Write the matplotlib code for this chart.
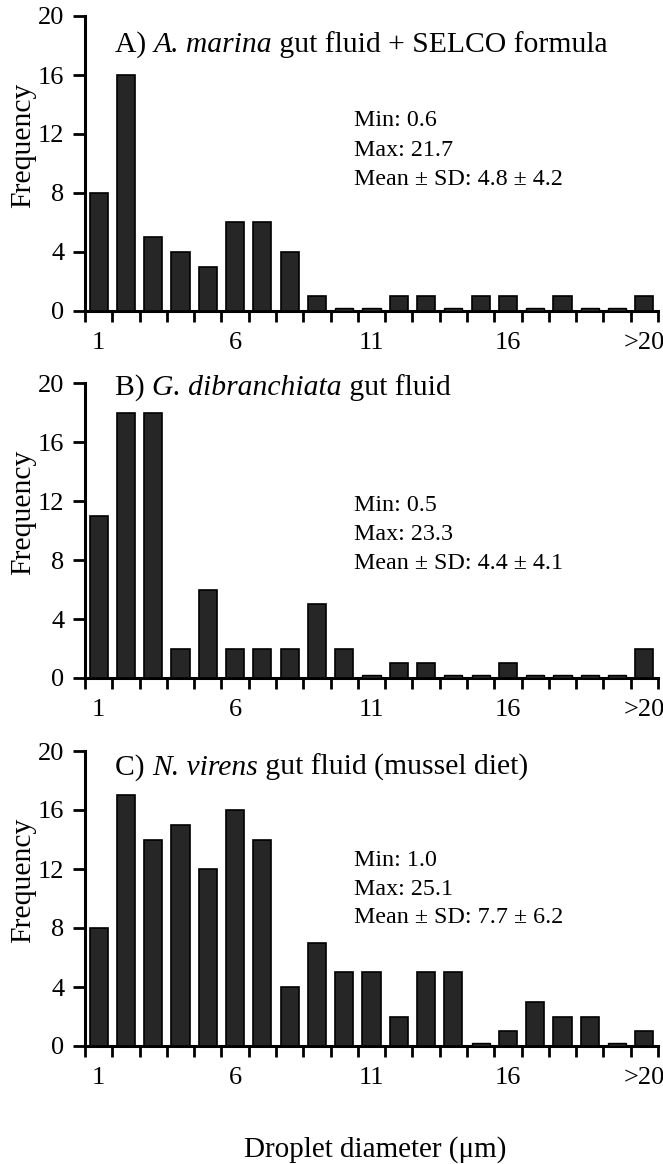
import matplotlib
matplotlib.use('Agg')
import matplotlib.pyplot as plt
import numpy as np

# ---- data ----
bin_labels = ['1', '2', '3', '4', '5', '6', '7', '8', '9', '10', '11', '12',
              '13', '14', '15', '16', '17', '18', '19', '20', '>20']
shown_labels = ['1', '6', '11', '16', '>20']

freq_a = [8, 16, 5, 4, 3, 6, 6, 4, 1, 0, 0, 1, 1, 0, 1, 1, 0, 1, 0, 0, 1]
freq_b = [11, 18, 18, 2, 6, 2, 2, 2, 5, 2, 0, 1, 1, 0, 0, 1, 0, 0, 0, 0, 2]
freq_c = [8, 17, 14, 15, 12, 16, 14, 4, 7, 5, 5, 2, 5, 5, 0, 1, 3, 2, 2, 0, 1]

# title pieces: (text, italic?)
title_a = [("A) ", False), ("A. marina", True), (" gut fluid + SELCO formula", False)]
title_b = [("B) ", False), ("G. dibranchiata", True), (" gut fluid", False)]
title_c = [("C) ", False), ("N. virens", True), (" gut fluid (mussel diet)", False)]
stats_a = ["Min: 0.6", "Max: 21.7", "Mean \u00b1 SD: 4.8 \u00b1 4.2"]
stats_b = ["Min: 0.5", "Max: 23.3", "Mean \u00b1 SD: 4.4 \u00b1 4.1"]
stats_c = ["Min: 1.0", "Max: 25.1", "Mean \u00b1 SD: 7.7 \u00b1 6.2"]
y_ticks = [0, 4, 8, 12, 16, 20]

# ---- style ----
plt.rcParams['font.family'] = ['Liberation Serif', 'DejaVu Serif']

W, H = 663, 1164
fig = plt.figure(figsize=(W / 100, H / 100), dpi=100)
renderer = fig.canvas.get_renderer()

def fx(px):
    return px / W

def fy(py):
    return 1 - py / H

panels = [
    (freq_a, title_a, stats_a, 16, 311, 52, [126, 156, 185]),
    (freq_b, title_b, stats_b, 383, 678, 395, [511, 540, 569]),
    (freq_c, title_c, stats_c, 751, 1046, 775, [866, 895, 923]),
]

left_px, right_px = 85, 658
for freq, title, stats, top_px, bot_px, title_base, stat_bases in panels:
    ax = fig.add_axes([fx(left_px), fy(bot_px), (right_px - left_px) / W,
                       (bot_px - top_px) / H])
    x = np.arange(1, len(freq) + 1)
    ax.bar(x, freq, width=0.66, color='#262626', edgecolor='black',
           linewidth=1.2, zorder=3, clip_on=False)
    # zero-count bins shown as thin flat bars on the axis, as in the original
    zero_x = [xi for xi, f in zip(x, freq) if f == 0]
    ax.bar(zero_x, [0.2] * len(zero_x), width=0.66, color='#262626',
           edgecolor='black', linewidth=1.0, zorder=3, clip_on=False)
    ax.set_xlim(0.5, len(freq) + 0.5)
    ax.set_ylim(0, 20)
    ax.set_yticks(y_ticks)
    ax.set_yticklabels([str(v) for v in y_ticks], fontsize=19)
    ax.set_xticks(np.arange(0.5, len(freq) + 1, 1))
    ax.set_xticklabels([])
    pos = [bin_labels.index(s) + 1 for s in shown_labels]
    ax.set_xticks(pos, minor=True)
    ax.set_xticklabels(shown_labels, minor=True, fontsize=19)
    ax.tick_params(axis='x', which='major', direction='out', length=8,
                   width=2, color='black')
    ax.tick_params(axis='x', which='minor', length=0, pad=15)
    ax.tick_params(axis='y', which='major', direction='out', length=9,
                   width=2, pad=6)
    for s in ['top', 'right']:
        ax.spines[s].set_visible(False)
    for s in ['left', 'bottom']:
        ax.spines[s].set_linewidth(2.2)
    ax.patch.set_alpha(0)

    # title built from pieces so the species name can be italic
    xpos = 115.0
    for txt, ital in title:
        t = fig.text(fx(xpos), fy(title_base), txt, fontsize=21.3,
                     ha='left', va='baseline',
                     fontstyle='italic' if ital else 'normal')
        bb = t.get_window_extent(renderer=renderer)
        xpos += bb.width
    for s, b in zip(stats, stat_bases):
        fig.text(fx(354), fy(b), s, fontsize=17.3, ha='left', va='baseline')
    ycen = top_px + (bot_px - top_px) * 0.44
    fig.text(fx(23), fy(ycen), "Frequency", fontsize=21.3, rotation=90,
             ha='center', va='center')

fig.text(fx(375), fy(1157), "Droplet diameter (\u03bcm)", fontsize=21,
         ha='center', va='baseline')

fig.savefig('out.png', dpi=100)
